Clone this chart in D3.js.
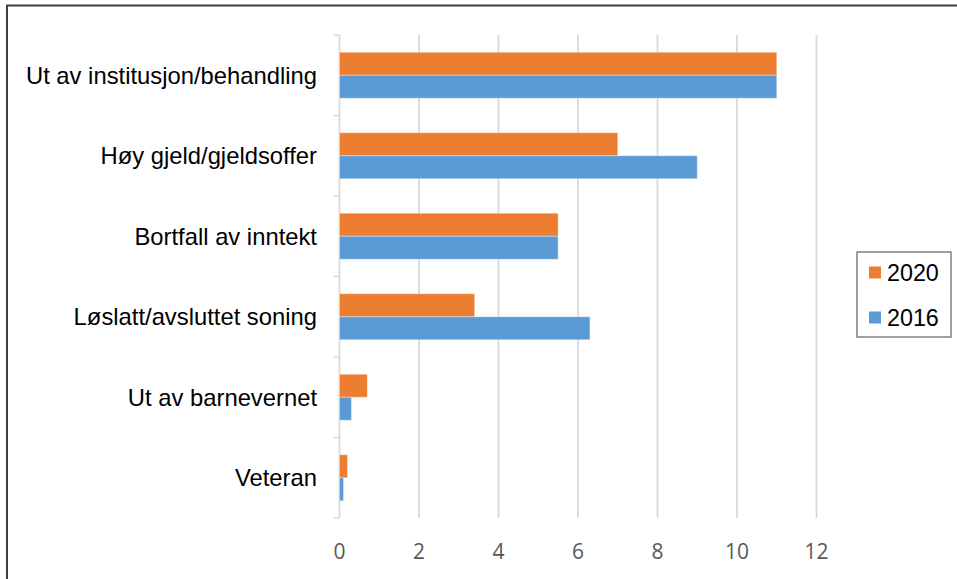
<!DOCTYPE html>
<html>
<head>
<meta charset="utf-8">
<script src="https://cdn.jsdelivr.net/npm/d3@7"></script>
<style>
  html, body { margin: 0; padding: 0; background: #fff; }
  svg { display: block; }
</style>
</head>
<body>
<svg id="chart" width="957" height="579"></svg>
<script>
const categories = ["Ut av institusjon/behandling", "Høy gjeld/gjeldsoffer", "Bortfall av inntekt", "Løslatt/avsluttet soning", "Ut av barnevernet", "Veteran"];
const seriesNames = ["2020", "2016"];
const values2020 = [11, 7, 5.5, 3.4, 0.7, 0.2];
const values2016 = [11, 9, 5.5, 6.3, 0.3, 0.1];
const xTicks = [0, 2, 4, 6, 8, 10, 12];
const colors = ["#ED7D31", "#5B9BD5"];

const svg = d3.select("#chart");
const plot = { left: 339.5, right: 816.5, top: 35, bottom: 518 };

// outer border
svg.append("rect").attr("x", 7).attr("y", 5.5).attr("width", 980).attr("height", 600)
  .attr("fill", "none").attr("stroke", "#404040").attr("stroke-width", 2);

const x = d3.scaleLinear().domain([0, 12]).range([plot.left, plot.right]);
const y = d3.scaleBand().domain(categories).range([plot.top, plot.bottom])
  .paddingInner(0.4286).paddingOuter(0.2143);
const ySub = d3.scaleBand().domain(seriesNames).range([0, y.bandwidth()]).padding(0);

// gridlines
svg.append("g").selectAll("line").data(xTicks.slice(1)).join("line")
  .attr("x1", d => x(d)).attr("x2", d => x(d))
  .attr("y1", plot.top).attr("y2", plot.bottom)
  .attr("stroke", "#d9d9d9").attr("stroke-width", 1.8);

// category axis line + ticks at band boundaries
svg.append("line").attr("x1", x(0)).attr("x2", x(0)).attr("y1", plot.top).attr("y2", plot.bottom)
  .attr("stroke", "#d9d9d9").attr("stroke-width", 1.8);
const step = y.step();
const bounds = d3.range(categories.length + 1).map(i => plot.top + i * step);
svg.append("g").selectAll("line").data(bounds).join("line")
  .attr("x1", x(0) - 6).attr("x2", x(0))
  .attr("y1", d => d).attr("y2", d => d)
  .attr("stroke", "#d9d9d9").attr("stroke-width", 1.5);

// bars
const rows = categories.map((c, i) => ({ cat: c, vals: [values2020[i], values2016[i]] }));
const groups = svg.append("g").selectAll("g").data(rows).join("g")
  .attr("transform", d => `translate(0,${y(d.cat)})`);
groups.selectAll("rect").data(d => d.vals.map((v, j) => ({ v, s: seriesNames[j], c: colors[j] }))).join("rect")
  .attr("x", x(0))
  .attr("y", d => ySub(d.s))
  .attr("width", d => x(d.v) - x(0))
  .attr("height", ySub.bandwidth())
  .attr("fill", d => d.c)
  .attr("stroke", "rgba(255,255,255,0.35)").attr("stroke-width", 1);

// category labels
svg.append("g").selectAll("text").data(categories).join("text")
  .attr("x", 317).attr("y", d => y(d) + y.bandwidth() / 2)
  .attr("text-anchor", "end").attr("dominant-baseline", "central")
  .attr("font-family", "'Liberation Sans', Arial, sans-serif").attr("font-size", 23.8)
  .attr("fill", "#000").text(d => d);

// x tick labels
svg.append("g").selectAll("text").data(xTicks).join("text")
  .attr("x", d => x(d)).attr("y", 551)
  .attr("text-anchor", "middle").attr("dominant-baseline", "central")
  .attr("font-family", "'Open Sans', sans-serif").attr("font-size", 21)
  .attr("fill", "#595959").text(d => d);

// legend
const lg = svg.append("g");
lg.append("rect").attr("x", 857).attr("y", 252).attr("width", 94).attr("height", 85)
  .attr("fill", "#fff").attr("stroke", "#808080").attr("stroke-width", 1.5);
const legendY = [272.5, 317.5];
seriesNames.forEach((s, i) => {
  lg.append("rect").attr("x", 869).attr("y", legendY[i] - 6).attr("width", 12).attr("height", 12)
    .attr("fill", colors[i]);
  lg.append("text").attr("x", 887).attr("y", legendY[i])
    .attr("dominant-baseline", "central")
    .attr("font-family", "'Liberation Sans', Arial, sans-serif").attr("font-size", 23.3)
    .attr("fill", "#000").text(s);
});
</script>
</body>
</html>
